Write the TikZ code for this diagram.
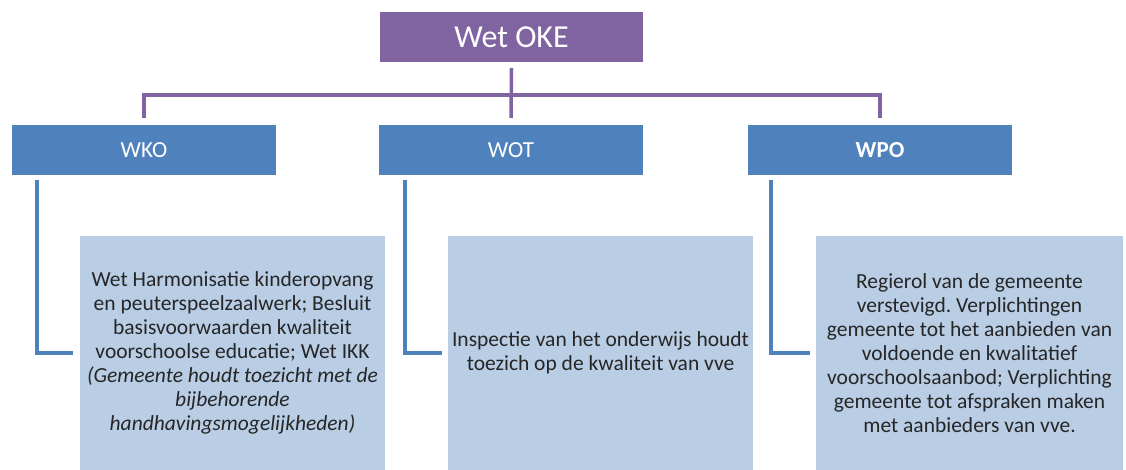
\documentclass[tikz,border=0pt]{standalone}
\usepackage{fontspec}
\setmainfont{Carlito}
\frenchspacing
\definecolor{okepurple}{HTML}{8064A2}
\definecolor{lawblue}{HTML}{4F81BD}
\definecolor{notefill}{HTML}{B9CDE5}
\tikzset{
  topbox/.style={fill=okepurple, text=white, minimum width=263pt, minimum height=50pt, inner sep=0pt, outer sep=0pt, font=\fontsize{32}{36}\selectfont},
  lawbox/.style={fill=lawblue, text=white, minimum width=264pt, minimum height=50pt, inner sep=0pt, outer sep=0pt, font=\fontsize{23}{27}\selectfont},
  notebox/.style={fill=notefill, text=black!85, minimum width=305pt, minimum height=234pt, inner sep=0pt, outer sep=0pt, align=center, font=\fontsize{21.5}{24}\selectfont},
  purplelink/.style={draw=okepurple, line width=3.5pt},
  bluelink/.style={draw=lawblue, line width=3.5pt}
}
\begin{document}
\begin{tikzpicture}[x=1pt, y=-1pt]
    \useasboundingbox (0,0) rectangle (1126,470);

    % Nodes for the law boxes
    \node[topbox] (oke) at (511.5, 37) {Wet OKE};
    \node[lawbox] (wko) at (144, 150) {WKO};
    \node[lawbox] (wot) at (511, 150) {WOT};
    \node[lawbox] (wpo) at (880, 150) {\textbf{WPO}};

    % Nodes for the notes below
    \node[notebox] (wkonote) at (232.5, 353) {Wet Harmonisatie kinderopvang\\ en peuterspeelzaalwerk; Besluit\\ basisvoorwaarden kwaliteit\\ voorschoolse educatie; Wet IKK\\ \textit{(Gemeente houdt toezicht met de}\\ \textit{bijbehorende}\\ \textit{handhavingsmogelijkheden)}};
    \node[notebox] (wotnote) at (600.5, 353) {Inspectie van het onderwijs houdt\\ toezich op de kwaliteit van vve};
    \node[notebox, minimum width=307pt] (wponote) at (969.5, 353) {Regierol van de gemeente\\ verstevigd. Verplichtingen\\ gemeente tot het aanbieden van\\ voldoende en kwalitatief\\ voorschoolsaanbod; Verplichting\\ gemeente tot afspraken maken\\ met aanbieders van vve.};

    % Connectors from Wet OKE
    \draw[purplelink] ([yshift=-6pt]oke.south) -- ([yshift=7pt]wot.north);
    \draw[purplelink] ([yshift=7pt]wko.north) -- ++(0,23pt) -| ([yshift=7pt]wpo.north);

    % Connectors to the notes
    \draw[bluelink] ([xshift=25pt, yshift=-5pt]wko.south west) |- ([xshift=-7pt]wkonote.west);
    \draw[bluelink] ([xshift=26pt, yshift=-5pt]wot.south west) |- ([xshift=-6pt]wotnote.west);
    \draw[bluelink] ([xshift=23pt, yshift=-5pt]wpo.south west) |- ([xshift=-6pt]wponote.west);
\end{tikzpicture}
\end{document}
